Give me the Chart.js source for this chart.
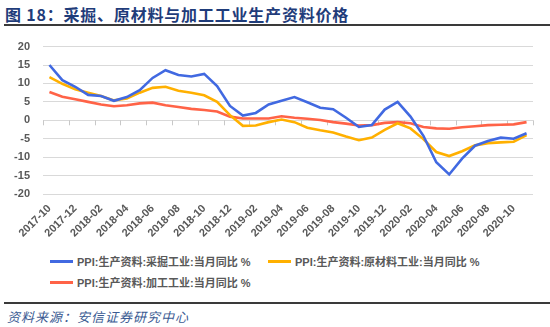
<!DOCTYPE html>
<html>
<head>
<meta charset="utf-8">
<script src="https://cdn.jsdelivr.net/npm/chart.js@4.4.1/dist/chart.umd.min.js"></script>
<style>
  body { margin: 0; width: 550px; height: 327px; background: #fff; position: relative; overflow: hidden; font-family: "Liberation Sans", Arial, sans-serif; }
  #title { position: absolute; left: 5px; top: 2px; font: bold 16px "Noto Sans CJK SC", sans-serif; color: #1F3C7A; letter-spacing: 0.8px; white-space: nowrap; }
  #rule1 { position: absolute; left: 4px; right: 0; top: 24px; height: 2px; background: #3a3a3a; }
  #box { position: absolute; left: 0; top: 27px; width: 550px; height: 219px; }
  #legend { position: absolute; left: 50px; top: 253px; width: 480px; font: bold 11px "Liberation Sans", "Noto Sans CJK SC", sans-serif; color: #595959; }
  .item { position: absolute; white-space: nowrap; display: flex; align-items: center; }
  .swatch { display: inline-block; width: 23px; height: 3px; margin-right: 4px; }
  #rule2 { position: absolute; left: 4px; right: 0; top: 302px; height: 2px; background: #3a3a3a; }
  #source { position: absolute; left: 7px; top: 307px; font: italic 13px "Noto Sans CJK SC", serif; color: #3A5A92; letter-spacing: 1px; white-space: nowrap; }
</style>
</head>
<body>
<div id="title">图 18：采掘、原材料与加工工业生产资料价格</div>
<div id="rule1"></div>
<div id="box"><canvas id="chart"></canvas></div>
<div id="legend"></div>
<div id="rule2"></div>
<div id="source">资料来源：安信证券研究中心</div>
<script>
// 月份 2017-10 ~ 2020-11
const months = ['2017-10','2017-11','2017-12','2018-01','2018-02','2018-03','2018-04','2018-05','2018-06','2018-07',
  '2018-08','2018-09','2018-10','2018-11','2018-12','2019-01','2019-02','2019-03','2019-04','2019-05',
  '2019-06','2019-07','2019-08','2019-09','2019-10','2019-11','2019-12','2020-01','2020-02','2020-03',
  '2020-04','2020-05','2020-06','2020-07','2020-08','2020-09','2020-10','2020-11'];

// PPI:生产资料:采掘工业:当月同比
const mining = [15.0, 10.9, 9.1, 6.9, 6.6, 5.3, 6.3, 8.2, 11.5, 13.6,
  12.3, 11.9, 12.6, 9.3, 3.9, 1.3, 2.0, 4.3, 5.3, 6.3,
  4.9, 3.4, 3.0, 0.7, -1.8, -1.3, 2.9, 5.0, 1.0, -4.2,
  -11.4, -14.7, -10.4, -6.9, -5.6, -4.7, -5.0, -3.5];

// PPI:生产资料:原材料工业:当月同比
const rawMat = [11.7, 9.9, 8.4, 7.5, 6.6, 5.4, 5.9, 7.5, 8.8, 9.1,
  8.0, 7.5, 6.8, 5.0, 1.4, -1.5, -1.4, -0.5, 0.2, -0.5,
  -2.0, -2.7, -3.3, -4.4, -5.4, -4.7, -2.6, -0.8, -2.2, -5.1,
  -8.6, -9.7, -8.4, -6.8, -6.2, -6.0, -5.8, -4.0];

// PPI:生产资料:加工工业:当月同比
const processing = [7.7, 6.4, 5.7, 5.0, 4.3, 3.8, 4.1, 4.6, 4.8, 4.1,
  3.6, 3.1, 2.8, 2.4, 1.0, 0.5, 0.5, 0.5, 1.1, 0.7,
  0.4, 0.1, -0.5, -0.9, -1.4, -1.3, -0.7, -0.5, -0.8, -1.8,
  -2.2, -2.3, -1.9, -1.6, -1.3, -1.2, -1.1, -0.5];

const seriesNames = ['PPI:生产资料:采掘工业:当月同比 %', 'PPI:生产资料:原材料工业:当月同比 %', 'PPI:生产资料:加工工业:当月同比 %'];
const seriesColors = ['#4169E1', '#FFB000', '#FF6347'];
const yTicks = [-20, -15, -10, -5, 0, 5, 10, 15, 20];

const tickFont = { family: '"Liberation Sans", Arial, sans-serif', size: 11, weight: 'bold' };
const gridGray = '#D9D9D9';

// 零轴上的刻度线（每两个月一个）
const zeroTicks = {
  id: 'zeroTicks',
  beforeDatasetsDraw(chart) {
    const x = chart.scales.x, y = chart.scales.y;
    const y0 = y.getPixelForValue(0);
    const ctx = chart.ctx;
    ctx.save();
    ctx.strokeStyle = '#C8C8C8';
    ctx.lineWidth = 1;
    ctx.beginPath();
    for (let i = 0; i <= months.length; i += 2) {
      const px = Math.round(x.getPixelForValue(i - 0.5)) + 0.5;
      ctx.moveTo(px, y0);
      ctx.lineTo(px, y0 + 5);
    }
    ctx.stroke();
    ctx.restore();
  }
};

const chart = new Chart(document.getElementById('chart'), {
  type: 'line',
  data: {
    labels: months,
    datasets: [mining, rawMat, processing].map((d, i) => ({
      label: seriesNames[i],
      data: d,
      borderColor: seriesColors[i],
      backgroundColor: seriesColors[i],
      borderWidth: 2.6,
      pointRadius: 0,
      tension: 0
    }))
  },
  options: {
    responsive: true,
    maintainAspectRatio: false,
    animation: false,
    layout: { padding: { top: 4, right: 17, left: 0, bottom: 0 } },
    plugins: { legend: { display: false }, tooltip: { enabled: false } },
    scales: {
      x: {
        type: 'category',
        offset: true,
        grid: { display: false },
        border: { display: false },
        ticks: {
          autoSkip: false,
          maxRotation: 45,
          minRotation: 45,
          color: '#595959',
          font: tickFont,
          padding: 0,
          callback: (v, i) => (i % 2 === 0 ? months[i] : '')
        },
        afterFit: s => { s.height = 52; }
      },
      y: {
        min: -20,
        max: 20,
        afterBuildTicks: s => { s.ticks = yTicks.map(v => ({ value: v })); },
        grid: { color: gridGray, drawTicks: false, lineWidth: 1 },
        border: { display: false },
        ticks: { color: '#595959', font: tickFont, padding: 13 },
        afterFit: s => { s.width = 43; }
      }
    }
  },
  plugins: [zeroTicks]
});

// 图例
const legend = document.getElementById('legend');
const legendPos = [[0, 0], [218, 0], [0, 21]];
seriesNames.forEach((name, i) => {
  const it = document.createElement('div');
  it.className = 'item';
  it.style.left = legendPos[i][0] + 'px';
  it.style.top = legendPos[i][1] + 'px';
  const sw = document.createElement('span');
  sw.className = 'swatch';
  sw.style.background = seriesColors[i];
  const tx = document.createElement('span');
  tx.textContent = name;
  it.appendChild(sw);
  it.appendChild(tx);
  legend.appendChild(it);
});
</script>
</body>
</html>
